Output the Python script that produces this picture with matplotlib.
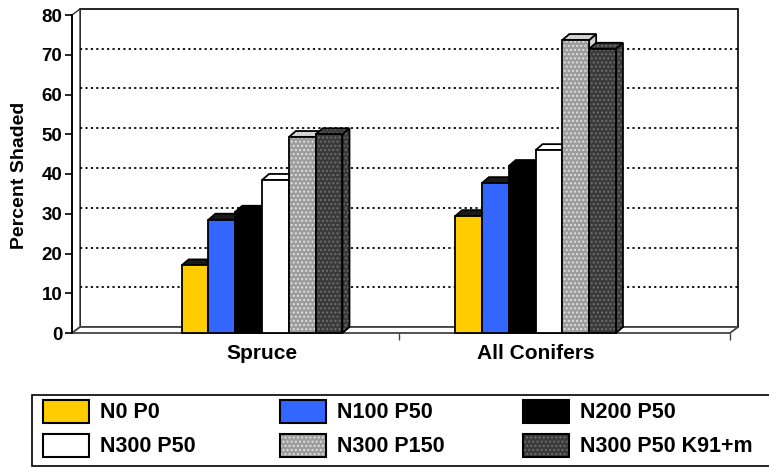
import matplotlib as mpl
import matplotlib.pyplot as plt
from matplotlib.patches import Polygon, Rectangle

mpl.rcParams['font.family'] = ['Liberation Sans', 'DejaVu Sans']
mpl.rcParams['font.weight'] = 'bold'
mpl.rcParams['hatch.linewidth'] = 1.0

# data
categories = ["Spruce", "All Conifers"]
series = ["N0 P0", "N100 P50", "N200 P50", "N300 P50", "N300 P150", "N300 P50 K91+m"]
spruce = [17.0, 28.5, 30.5, 38.5, 49.3, 50.0]
conifers = [29.4, 37.7, 42.0, 46.0, 73.7, 71.5]
values = [spruce, conifers]
y_ticks = [0, 10, 20, 30, 40, 50, 60, 70, 80]

# look of each series: face, cap/side shade, hatch, hatch colour
faces = ['#ffcc00', '#3366ff', '#000000', '#ffffff', '#9c9c9c', '#3a3a3a']
shades = ['#1a1a1a', '#1a1a1a', '#000000', '#ffffff', '#cfcfcf', '#2a2a2a']
hatches = [None, None, None, None, '....', '....']
hatch_cols = [None, None, None, None, '#e0e0e0', '#6e6e6e']

W, H = 769, 468
XMIN, XMAX = -0.695, 1.711
BAR_W = 0.098
WALL_DX, WALL_DY = 8, 6     # depth of walls in pixels
BAR_DX, BAR_DY = 7, 6       # depth of bars in pixels

fig = plt.figure(figsize=(W / 100, H / 100), dpi=100, facecolor='white')
ax_left, ax_right, ax_top, ax_bottom = 72, 730, 15, 333
ax = fig.add_axes([ax_left / W, (H - ax_bottom) / H,
                   (ax_right - ax_left) / W, (ax_bottom - ax_top) / H])
ax.set_xlim(XMIN, XMAX)
ax.set_ylim(0, 80)
ax.patch.set_alpha(0)


def px(dx, dy):
    # pixel offset -> data offset
    return (dx * (XMAX - XMIN) / (ax_right - ax_left),
            dy * 80 / (ax_bottom - ax_top))


wdx, wdy = px(WALL_DX, WALL_DY)
bdx, bdy = px(BAR_DX, BAR_DY)

# back wall, side wall, floor
ax.add_patch(Rectangle((XMIN + wdx, wdy), XMAX - XMIN, 80, fc='white', ec='black',
                       lw=1.2, zorder=1, clip_on=False))
ax.add_patch(Polygon([(XMIN, 0), (XMIN, 80), (XMIN + wdx, 80 + wdy), (XMIN + wdx, wdy)],
                     closed=True, fc='white', ec='#333333', lw=1.0, zorder=1, clip_on=False))
ax.add_patch(Polygon([(XMIN, 0), (XMAX, 0), (XMAX + wdx, wdy), (XMIN + wdx, wdy)],
                     closed=True, fc='white', ec='#444444', lw=1.3, zorder=2, clip_on=False))
for v in y_ticks[1:-1]:
    ax.plot([XMIN + wdx, XMAX + wdx], [v + wdy, v + wdy], color='black', lw=1.3,
            ls=(0, (1.2, 1.8)), zorder=1.5, clip_on=False)

# bars
z = 3
for ci, vals in enumerate(values):
    start = ci - BAR_W * len(series) / 2
    for si, h in enumerate(vals):
        x0 = start + si * BAR_W
        x1 = x0 + BAR_W
        front = [(x0, 0), (x1, 0), (x1, h), (x0, h)]
        cap = [(x0, h), (x1, h), (x1 + bdx, h + bdy), (x0 + bdx, h + bdy)]
        side = [(x1, 0), (x1 + bdx, bdy), (x1 + bdx, h + bdy), (x1, h)]
        for pts, fc in ((side, shades[si]), (cap, shades[si]), (front, faces[si])):
            if hatches[si]:
                base = faces[si] if pts is front else shades[si] if si == 4 else faces[si]
                ax.add_patch(Polygon(pts, closed=True, fc=base, ec=hatch_cols[si], lw=0,
                                     hatch=hatches[si], zorder=z, clip_on=False))
                ax.add_patch(Polygon(pts, closed=True, fill=False, ec='black', lw=1.3,
                                     zorder=z + 0.001, clip_on=False))
            else:
                ax.add_patch(Polygon(pts, closed=True, fc=fc, ec='black', lw=1.3,
                                     zorder=z, clip_on=False))
            z += 0.002
        z += 0.01

# axes styling
for s in ('top', 'right', 'bottom'):
    ax.spines[s].set_visible(False)
ax.spines['left'].set_linewidth(1.3)
ax.spines['left'].set_zorder(2.5)
ax.set_yticks(y_ticks)
ax.set_yticklabels([str(v) for v in y_ticks], fontsize=13.5)
ax.tick_params(axis='y', length=5, width=1.2, pad=2, direction='out')
ax.set_xticks([0, 1])
ax.set_xticklabels(categories, fontsize=15)
ax.tick_params(axis='x', which='major', length=0, pad=8)
ax.set_xticks([0.5, XMAX], minor=True)
ax.tick_params(axis='x', which='minor', length=5, width=1.0, color='#444444')

fig.text(20 / W, 1 - 175 / H, "Percent Shaded", rotation=90, fontsize=14,
         ha='center', va='center')

# legend drawn in figure pixels
def fx(x):
    return x / W


def fy(y):
    return 1 - y / H


fig.add_artist(Rectangle((fx(32), fy(466)), fx(780) - fx(32), fy(395) - fy(466),
                         transform=fig.transFigure, fc='white', ec='black', lw=1.2))
col_x = [43, 280, 523]
row_y = [400, 434]
for si, name in enumerate(series):
    hx = col_x[si % 3]
    hy = row_y[si // 3]
    rect = [fx(hx), fy(hy + 23)]
    if hatches[si]:
        fig.add_artist(Rectangle(rect, fx(46), fy(0) - fy(23), transform=fig.transFigure,
                                 fc=faces[si], ec=hatch_cols[si], lw=0, hatch=hatches[si]))
        fig.add_artist(Rectangle(rect, fx(46), fy(0) - fy(23), transform=fig.transFigure,
                                 fill=False, ec='black', lw=1.5))
    else:
        fig.add_artist(Rectangle(rect, fx(46), fy(0) - fy(23), transform=fig.transFigure,
                                 fc=faces[si], ec='black', lw=1.5))
    fig.text(fx(hx + 57), fy(hy + 12), name, fontsize=15.5, ha='left', va='center')

fig.savefig('out.png', dpi=100)
